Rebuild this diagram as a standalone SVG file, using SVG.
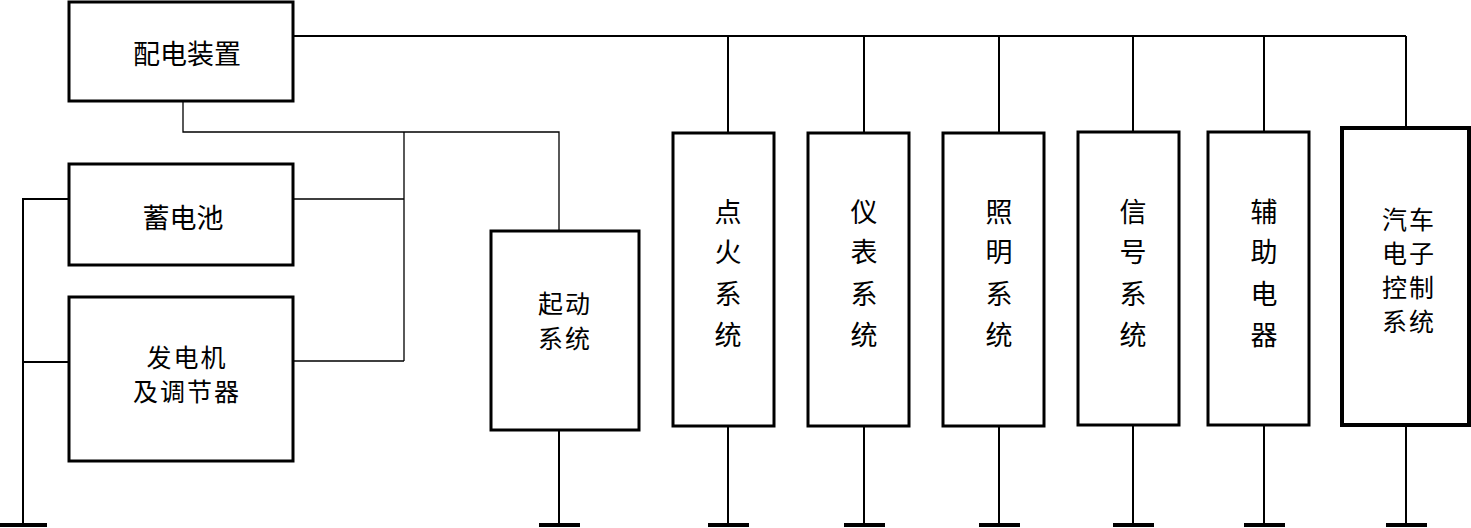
<svg xmlns="http://www.w3.org/2000/svg" width="1471" height="528" viewBox="0 0 1471 528">
<style>
.box{fill:#fff;stroke:#000;stroke-width:3}
.bold{fill:#fff;stroke:#000;stroke-width:4}
.w{fill:none;stroke:#000;stroke-width:2}
.t{fill:none;stroke:#000;stroke-width:1.3}
.g{fill:none;stroke:#000;stroke-width:4}
text{font-family:"Noto Sans CJK SC","Noto Sans CJK TC",sans-serif;font-size:27px;fill:#000;text-anchor:middle;dominant-baseline:central}
.s{font-size:25px;letter-spacing:2px}
</style>
<rect width="1471" height="528" fill="#fff"/>
<g id="connectors">
<path class="w" d="M293 36H1406M728 36V133M864 36V133M999 36V133M1133 36V132M1264 36V132M1406 36V128"/>
<path class="t" d="M183 101V132H559V231M404 132V361M293 199H404M293 361H404"/>
<path class="w" d="M69 199H23V525M23 362H69"/>
<path class="w" d="M559 430V525M728 426V525M864 426V525M999 426V525M1133 425V525M1264 425V525M1406 425V525"/>
<path class="g" d="M0 525H47M539 525H580M708 525H749M844 525H885M979 525H1020M1113 525H1154M1244 525H1285M1386 525H1427"/>
</g>
<g id="peidian"><rect class="box" x="69" y="2" width="224" height="99"/><text x="187" y="52">配电装置</text></g>
<g id="battery"><rect class="box" x="69" y="164" width="224" height="101"/><text x="183" y="216">蓄电池</text></g>
<g id="generator"><rect class="box" x="69" y="297" width="224" height="164"/><text class="s" x="187" y="356">发电机</text><text class="s" x="187" y="390">及调节器</text></g>
<g id="starter"><rect class="box" x="491" y="231" width="148" height="199"/><text class="s" x="565" y="302">起动</text><text class="s" x="565" y="337">系统</text></g>
<g id="ignition"><rect class="box" x="673" y="133" width="101" height="293"/><text x="728" y="210">点</text><text x="728" y="250">火</text><text x="728" y="292">系</text><text x="728" y="333">统</text></g>
<g id="instrument"><rect class="box" x="808" y="133" width="101" height="293"/><text x="864" y="210">仪</text><text x="864" y="250">表</text><text x="864" y="292">系</text><text x="864" y="333">统</text></g>
<g id="lighting"><rect class="box" x="943" y="133" width="101" height="293"/><text x="999" y="210">照</text><text x="999" y="250">明</text><text x="999" y="292">系</text><text x="999" y="333">统</text></g>
<g id="signal"><rect class="box" x="1078" y="132" width="101" height="293"/><text x="1133" y="210">信</text><text x="1133" y="250">号</text><text x="1133" y="292">系</text><text x="1133" y="333">统</text></g>
<g id="auxiliary"><rect class="box" x="1208" y="132" width="101" height="293"/><text x="1264" y="210">辅</text><text x="1264" y="250">助</text><text x="1264" y="292">电</text><text x="1264" y="333">器</text></g>
<g id="ecu"><rect class="bold" x="1342" y="128" width="127" height="297"/><text class="s" x="1409" y="218">汽车</text><text class="s" x="1409" y="252">电子</text><text class="s" x="1409" y="286">控制</text><text class="s" x="1409" y="320">系统</text></g>
</svg>
